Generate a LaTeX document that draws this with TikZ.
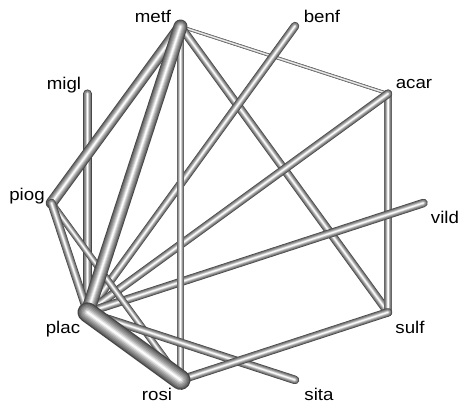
\documentclass[tikz,border=0pt]{standalone}
\usepackage{fontspec}
\setmainfont{Liberation Sans}
\newcommand{\tube}[3]{%
  \foreach \f/\c in {1/black!72, 0.86/black!60, 0.72/black!50, 0.58/black!41, 0.44/black!31, 0.3/black!19, 0.17/black!7, 0.06/white}{%
    \pgfmathsetmacro\lw{\f*#3}%
    \draw[line width=\lw pt, color=\c, line cap=round] (#1) -- (#2);
  }%
}
\tikzset{lab/.style={anchor=base, inner sep=0pt, font=\fontsize{17}{20}\selectfont}}
\newcommand{\wide}[1]{\scalebox{1.1}[1]{#1}}
\begin{document}
\begin{tikzpicture}[x=1pt,y=-1pt]
\useasboundingbox[fill=white] (0,0) rectangle (459,408);
\coordinate (vild) at (423.5,203);
\coordinate (acar) at (388.0,93.7);
\coordinate (benf) at (295.0,26.1);
\coordinate (metf) at (180.5,26.5);
\coordinate (migl) at (87.5,93.7);
\coordinate (piog) at (51.5,203);
\coordinate (plac) at (87.5,312.3);
\coordinate (rosi) at (180.5,379.9);
\coordinate (sita) at (295.0,379.9);
\coordinate (sulf) at (388.0,312.3);
\tube{metf}{acar}{3.2}
\tube{metf}{sulf}{8.5}
\tube{benf}{plac}{8.5}
\tube{acar}{sulf}{8.5}
\tube{acar}{plac}{8.5}
\tube{vild}{plac}{8.5}
\tube{migl}{plac}{8.5}
\tube{metf}{piog}{11.5}
\tube{metf}{rosi}{7.5}
\tube{piog}{rosi}{7}
\tube{plac}{sita}{8.5}
\tube{rosi}{sulf}{8.5}
\tube{piog}{plac}{8.5}
\tube{metf}{plac}{14}
\tube{plac}{rosi}{20}
\node[lab] (lmetf) at (153,22) {\wide{metf}};
\node[lab] (lbenf) at (322,22) {\wide{benf}};
\node[lab] (lacar) at (414,88.5) {\wide{acar}};
\node[lab] (lvild) at (445,223) {\wide{vild}};
\node[lab] (lsulf) at (410,333) {\wide{sulf}};
\node[lab] (lsita) at (319,400) {\wide{sita}};
\node[lab] (lrosi) at (157,400) {\wide{rosi}};
\node[lab] (lplac) at (63,333) {\wide{plac}};
\node[lab] (lpiog) at (27,200) {\wide{piog}};
\node[lab] (lmigl) at (64,89) {\wide{migl}};
\end{tikzpicture}
\end{document}
